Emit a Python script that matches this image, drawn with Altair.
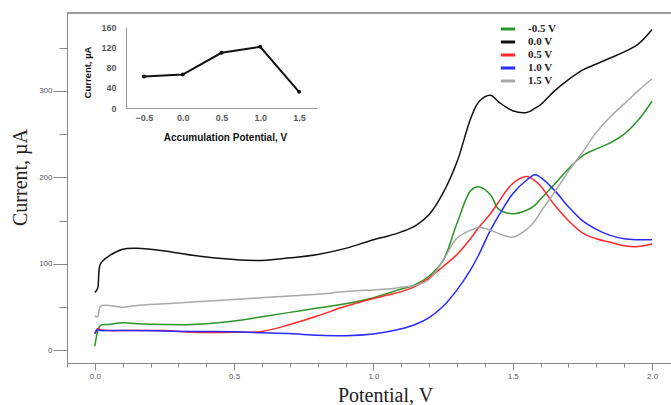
import altair as alt
import pandas as pd

# ---- main voltammograms ----
potential = [0.0, 0.01, 0.02, 0.05, 0.1, 0.15, 0.25, 0.35, 0.5, 0.6, 0.7, 0.8, 0.9, 1.0,
             1.05, 1.1, 1.15, 1.2, 1.25, 1.3, 1.35, 1.38, 1.42, 1.45, 1.5, 1.55, 1.58, 1.6,
             1.65, 1.7, 1.75, 1.8, 1.85, 1.9, 1.95, 2.0]
cur_m05 = [5, 22, 29, 30, 32, 31, 30, 30, 34, 39, 44, 49, 54, 61, 66, 71, 76, 86, 104, 147,
           185, 189, 180, 163, 158, 162, 168, 175, 192, 210, 225, 233, 240, 250, 266, 288]
cur_00 = [67, 72, 100, 109, 117, 118, 115, 110, 105, 104, 107, 111, 118, 128, 132, 137, 144,
          157, 182, 218, 269, 288, 295, 287, 277, 275, 280, 284, 300, 313, 324, 331, 338, 345,
          354, 371]
cur_05 = [20, 25, 24, 23, 23, 23, 23, 21, 21, 22, 30, 40, 51, 60, 64, 68, 74, 84, 97, 111,
          130, 143, 158, 172, 193, 201, 196, 190, 168, 150, 136, 129, 125, 121, 120, 123]
cur_10 = [19, 24, 23, 23, 23, 23, 22.5, 22, 21.5, 20.5, 19.5, 17.5, 17, 19, 21.5, 25, 30, 38,
          51, 70, 94, 112, 139, 156, 181, 197, 203, 200, 185, 166, 150, 140, 133, 129, 128, 128]
cur_15 = [40, 39, 51, 52, 50, 52, 54, 56, 59, 61, 63, 65, 68, 70, 71, 73, 75, 82, 104, 130,
          139, 142, 139, 135, 131, 140, 150, 160, 183, 207, 229, 252, 270, 285, 300, 314]

series_names = ["-0.5 V", "0.0 V", "0.5 V", "1.0 V", "1.5 V"]
series_colors = ["#2a962a", "#111111", "#ff2a2a", "#2a2aff", "#a8a8a8"]
series_values = [cur_m05, cur_00, cur_05, cur_10, cur_15]

# ---- inset ----
acc_potential = [-0.5, 0.0, 0.5, 1.0, 1.5]
peak_current = [62, 66, 109, 121, 32]

rows = []
for name, vals in zip(series_names, series_values):
    for p, v in zip(potential, vals):
        rows.append({"Potential": p, "Current": v, "Series": name})
df = pd.DataFrame(rows)
df_inset = pd.DataFrame({"Acc": acc_potential, "Peak": peak_current})

W, H = 604, 350
x_ticks = [round(-0.1 + 0.1 * i, 1) for i in range(22)]
y_ticks = [0, 50, 100, 150, 200, 250, 300, 350]

frame_top = alt.Chart(df_inset).mark_rule(color="#999999", strokeWidth=1).encode(
    x=alt.value(0), x2=alt.value(W), y=alt.value(0)
)

main = alt.Chart(df).mark_line(strokeWidth=1.5, interpolate="catmull-rom").encode(
    x=alt.X(
        "Potential:Q",
        scale=alt.Scale(domain=[-0.1, 2.068], nice=False, zero=False),
        axis=alt.Axis(
            values=x_ticks,
            labelExpr="abs(datum.value*2 - round(datum.value*2)) < 0.01 ? format(datum.value, '.1f') : ''",
            tickSize={"condition": {"test": "abs(datum.value*2 - round(datum.value*2)) < 0.01", "value": 7}, "value": 4},
            title="Potential, V",
            titleFont="Liberation Serif", titleFontSize=20, titleFontWeight="normal",
            titleColor="#222222", titleX=318, titleY=32, titleAlign="center",
            titleBaseline="middle",
            labelFont="Liberation Sans", labelFontSize=8, labelColor="#555566",
            labelPadding=2, grid=False, domainColor="#888888", tickColor="#888888",
        ),
    ),
    y=alt.Y(
        "Current:Q",
        scale=alt.Scale(domain=[-14.5, 390], nice=False, zero=False),
        axis=alt.Axis(
            values=y_ticks,
            labelExpr="datum.value % 100 === 0 ? format(datum.value, 'd') : ''",
            tickSize={"condition": {"test": "datum.value % 100 === 0", "value": 14}, "value": 8},
            title="Current, µA",
            titleFont="Liberation Serif", titleFontSize=20, titleFontWeight="normal",
            titleColor="#222222", titleX=-47, titleY=164, titleAlign="center",
            titleBaseline="middle", titleAngle=-90,
            labelFont="Liberation Sans", labelFontSize=8, labelColor="#555566",
            labelPadding=1, grid=False, domainColor="#888888", tickColor="#888888",
        ),
    ),
    color=alt.Color(
        "Series:N",
        scale=alt.Scale(domain=series_names, range=series_colors),
        legend=alt.Legend(
            title=None, orient="none", legendX=434, legendY=9, padding=0,
            symbolType="M-1.3,0L1.3,0", symbolSize=121, symbolStrokeWidth=3,
            rowPadding=0, labelOffset=13,
            labelFont="Liberation Serif", labelFontSize=11, labelFontWeight="bold",
            labelColor="#222222",
        ),
    ),
)

inset_x = alt.X(
    "Acc:Q",
    scale=alt.Scale(domain=[-0.732, 1.732], range=[59, 250], nice=False, zero=False),
    axis=alt.Axis(
        values=acc_potential, format=".1f", orient="bottom", offset=-255,
        ticks=False, tickSize=0, grid=False, domainColor="#999999",
        labelFont="Liberation Sans", labelFontSize=9, labelFontWeight="bold",
        labelColor="#595959", labelPadding=5,
        title="Accumulation Potential, V", titleFont="Liberation Sans",
        titleFontSize=10, titleFontWeight="bold", titleColor="#111111",
        titleX=158, titleY=29, titleAlign="center", titleBaseline="middle",
    ),
)
inset_y = alt.Y(
    "Peak:Q",
    scale=alt.Scale(domain=[0, 160], range=[95, 14], nice=False, zero=False),
    axis=alt.Axis(
        values=[0, 40, 80, 120, 160], orient="left", offset=-59,
        ticks=False, tickSize=0, grid=False, domainColor="#999999",
        labelFont="Liberation Sans", labelFontSize=9, labelFontWeight="bold",
        labelColor="#595959", labelPadding=10,
        title="Current, µA", titleFont="Liberation Sans",
        titleFontSize=9.5, titleFontWeight="bold", titleColor="#111111",
        titleX=-39, titleY=59, titleAlign="center", titleBaseline="middle",
        titleAngle=-90,
    ),
)
inset_line = alt.Chart(df_inset).mark_line(color="#111111", strokeWidth=2).encode(
    x=inset_x, y=inset_y
)
inset_pts = alt.Chart(df_inset).mark_circle(color="#111111", size=16, opacity=1).encode(
    x=inset_x, y=inset_y
)
inset = alt.layer(inset_line, inset_pts)

chart = alt.layer(frame_top, main, inset).resolve_scale(
    x="independent", y="independent"
).properties(
    width=W, height=H,
    padding={"left": 67, "top": 13, "right": 0, "bottom": 42},
    autosize=alt.AutoSizeParams(type="none"),
    background="white",
).configure_view(stroke=None)

chart.save("out.html", embed_options={"renderer": "svg", "actions": False})
